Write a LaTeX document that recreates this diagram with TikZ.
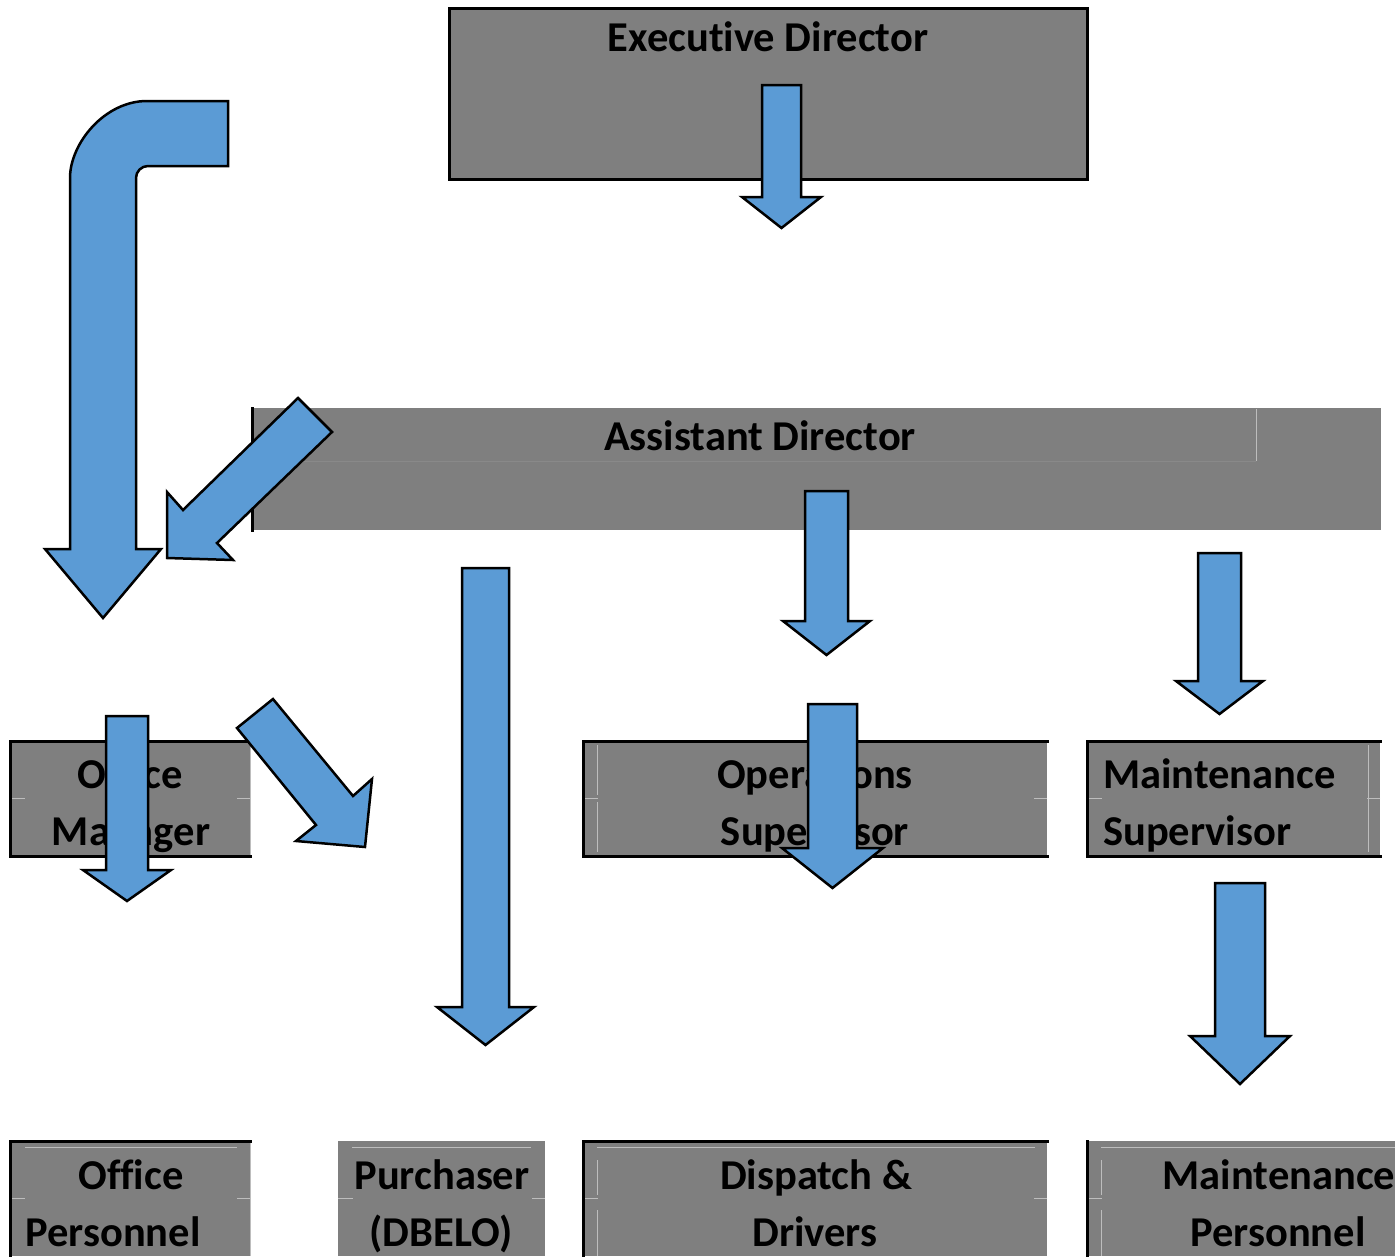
\documentclass[tikz,border=0pt]{standalone}
\usepackage{fontspec}
\setmainfont{Carlito}[Ligatures=NoCommon]
\definecolor{boxgray}{HTML}{7F7F7F}
\definecolor{faintgray}{HTML}{BDBDBD}
\definecolor{subtlegray}{HTML}{898989}
\definecolor{arrowblue}{HTML}{5B9BD5}
\newcommand\blockdown[6]{%
  \filldraw[blk] (#1-#2,#3) -- (#1+#2,#3) -- (#1+#2,#4) -- (#1+#5,#4) -- (#1,#6) -- (#1-#5,#4) -- (#1-#2,#4) -- cycle;}
\begin{document}
\begin{tikzpicture}[x=1pt,y=-1pt,
  box/.style={fill=boxgray, inner sep=0pt, outer sep=0pt, anchor=north west},
  edgeline/.style={line width=3pt, line cap=rect},
  faint/.style={draw=faintgray, line width=1pt},
  lbl/.style={font=\bfseries\fontsize{42.5}{50}\selectfont, inner sep=0pt, anchor=base},
  lblw/.style={lbl, anchor=base west},
  blk/.style={fill=arrowblue, draw=black, line width=2.5pt, line join=miter}]
\fill[white] (0,0) rectangle (1395,1256);
\useasboundingbox (0,0) rectangle (1395,1256);

% ---------- boxes ----------
\node[box, minimum width=638pt, minimum height=171pt] (ed) at (449,8) {};
\node[box, minimum width=1129pt, minimum height=122pt] (ad) at (252,408) {};
\node[box, minimum width=240pt, minimum height=115pt] (om) at (10,741) {};
\node[box, minimum width=464pt, minimum height=115pt] (os) at (583,741) {};
\node[box, minimum width=293pt, minimum height=115pt] (ms) at (1087,741) {};
\node[box, minimum width=240pt, minimum height=115pt] (op) at (10,1141) {};
\node[box, minimum width=207pt, minimum height=115pt] (pu) at (338,1141) {};
\node[box, minimum width=464pt, minimum height=115pt] (dd) at (583,1141) {};
\node[box, minimum width=308pt, minimum height=115pt] (mp) at (1087,1141) {};

% faint table grid lines
\draw[draw=subtlegray, line width=1pt] (ad.west |- 0,461) -- (1256,461);
\draw[faint] (1256,409) -- (1256,461);
\foreach \b in {om,os,ms}{
  \draw[faint] (\b.west) -- ++(15,0);
  \draw[faint] (\b.east) -- ++(-13,0);
}
\draw[faint] (om.north east) -- (om.south east);
\draw[faint] (597,745) -- (597,795) (597,802) -- (597,852);
\draw[faint] (1368,745) -- (1368,852);
\foreach \b in {op,pu,dd,mp}{
  \draw[faint] (\b.west) -- ++(15,0);
}
\draw[faint] (op.east) -- ++(-13,0);
\draw[faint] (pu.east) -- ++(-13,0);
\draw[faint] (dd.east) -- ++(-13,0);
\draw[faint] (25,1147) -- (237,1147);
\draw[faint] (352,1147) -- (531,1147);
\draw[faint] (597,1147) -- (1035,1147) (597,1160) -- (597,1195) (597,1210) -- (597,1256);
\draw[faint] (1101,1147) -- (1395,1147) (1101,1160) -- (1101,1195) (1101,1210) -- (1101,1256);
\draw[faint] (op.north east) -- (op.south east);

% black borders
\draw[edgeline] (ed.north west) rectangle (ed.south east);
\draw[edgeline] (ad.north west) -- (ad.south west);
\draw[edgeline] (om.north east) -- (om.north west) -- (om.south west) -- (om.south east);
\draw[edgeline] (os.north east) -- (os.north west) -- (os.south west) -- (os.south east);
\draw[edgeline] (ms.north east) -- (ms.north west) -- (ms.south west) -- (ms.south east);
\draw[edgeline] (op.north east) -- (op.north west) -- (op.south west);
\draw[edgeline] (dd.north east) -- (dd.north west) -- (dd.south west);
\draw[edgeline] (mp.north west) -- (mp.south west);

% ---------- labels ----------
\node[lbl] (edt) at (768,51) {Executive Director};
\node[lbl] (adt) at (760,450) {Assistant Director};
\node[lbl] (omt1) at (130,788) {Office};
\node[lbl] (omt2) at (131,845) {Manager};
\node[lbl] (ost1) at (815,788) {Operations};
\node[lbl] (ost2) at (815,845) {Supervisor};
\node[lblw] (mst1) at (1103,788) {Maintenance};
\node[lblw] (mst2) at (1103,845) {Supervisor};
\node[lbl] (opt1) at (131,1189) {Office};
\node[lbl] (opt2) at (113,1246) {Personnel};
\node[lbl] (put1) at (442,1189) {Purchaser};
\node[lbl] (put2) at (441,1246) {(DBELO)};
\node[lbl] (ddt1) at (816,1189) {Dispatch \&};
\node[lbl] (ddt2) at (815,1246) {Drivers};
\node[lbl] (mpt1) at (1279,1189) {Maintenance};
\node[lbl] (mpt2) at (1278,1246) {Personnel};

% ---------- block arrows ----------
\blockdown{781.5}{19.5}{85}{197}{39.5}{228}
\blockdown{826.5}{21.5}{491}{621}{43.5}{655}
\blockdown{1219.5}{21.5}{553}{681}{43.5}{714}
\blockdown{127}{21}{716}{870}{44}{901}
\blockdown{485.5}{23.5}{568}{1007}{48.5}{1045}
\blockdown{832.5}{24.5}{704}{848}{50.5}{888}
\blockdown{1240}{25}{883}{1036}{50}{1084}

% bent arrow
\filldraw[blk] (228,101) -- (147,101) .. controls (104.5,101) and (70,143.5) .. (70,178)
  -- (70,549) -- (45,549) -- (103,618) -- (161,549) -- (136,549) -- (136,178)
  .. controls (136,171.4) and (141.4,166) .. (148,166) -- (228,166) -- cycle;

% diagonal arrows
\filldraw[blk] (298,398) -- (332,432) -- (217,543) -- (233,560) -- (167,558) -- (167,492) -- (183,510) -- cycle;
\filldraw[blk] (273,699) -- (353,796) -- (372,779) -- (365,847) -- (296,841) -- (316,825) -- (237,728) -- cycle;
\end{tikzpicture}
\end{document}
